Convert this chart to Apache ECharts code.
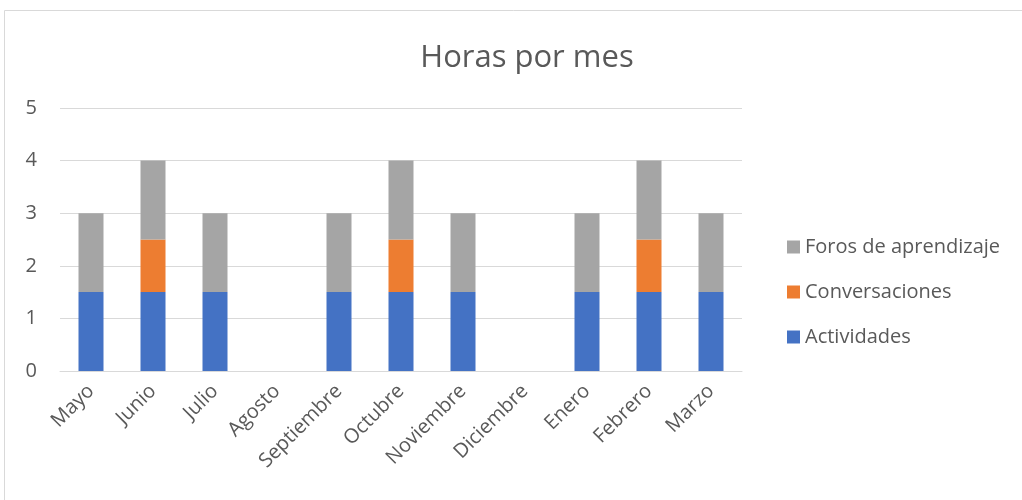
<!DOCTYPE html>
<html><head><meta charset="utf-8">
<script src="https://cdn.jsdelivr.net/npm/echarts@6/dist/echarts.min.js"></script>
<style>html,body{margin:0;padding:0;background:#fff}#c{width:1022px;height:500px}</style>
</head><body><div id="c"></div>
<script>
const categories = ['Mayo','Junio','Julio','Agosto','Septiembre','Octubre','Noviembre','Diciembre','Enero','Febrero','Marzo'];
const actividades = [1.5,1.5,1.5,0,1.5,1.5,1.5,0,1.5,1.5,1.5];
const conversaciones = [0,1,0,0,0,1,0,0,0,1,0];
const foros = [1.5,1.5,1.5,0,1.5,1.5,1.5,0,1.5,1.5,1.5];
const yTicks = [0,1,2,3,4,5];

const FONT = '"Open Sans", "Noto Sans", sans-serif';
const chart = echarts.init(document.getElementById('c'), null, {renderer:'canvas'});
chart.setOption({
  animation:false,
  textStyle:{fontFamily:FONT},
  graphic:[{type:'rect',shape:{x:4.5,y:10.5,width:1100,height:600},style:{fill:'none',stroke:'#d9d9d9',lineWidth:1},silent:true}],
  title:{text:'Horas por mes',left:522,top:38,textAlign:'center',textStyle:{fontFamily:FONT,fontSize:31,fontWeight:'normal',color:'#595959'}},
  legend:{orient:'vertical',left:782,top:229,itemWidth:13,itemHeight:13,itemGap:19,icon:'rect',
    textStyle:{fontFamily:FONT,fontSize:20,color:'#595959',lineHeight:26},
    data:['Foros de aprendizaje','Conversaciones','Actividades']},
  grid:{left:60,right:280,top:108,bottom:129,containLabel:false},
  xAxis:{type:'category',data:categories,
    axisLine:{lineStyle:{color:'#d9d9d9',width:1}},axisTick:{show:false},
    axisLabel:{rotate:45,interval:0,margin:17,fontSize:20,color:'#595959',fontFamily:FONT}},
  yAxis:{type:'value',min:yTicks[0],max:yTicks[yTicks.length-1],interval:1,
    axisLine:{show:false},axisTick:{show:false},
    splitLine:{lineStyle:{color:'#d9d9d9',width:1}},
    axisLabel:{fontSize:20,color:'#595959',margin:23,fontFamily:FONT}},
  series:[
    {name:'Actividades',type:'bar',stack:'t',data:actividades,barWidth:25,itemStyle:{color:'#4472C4'}},
    {name:'Conversaciones',type:'bar',stack:'t',data:conversaciones,barWidth:25,itemStyle:{color:'#ED7D31'}},
    {name:'Foros de aprendizaje',type:'bar',stack:'t',data:foros,barWidth:25,itemStyle:{color:'#A5A5A5'}}
  ]
});
</script></body></html>
